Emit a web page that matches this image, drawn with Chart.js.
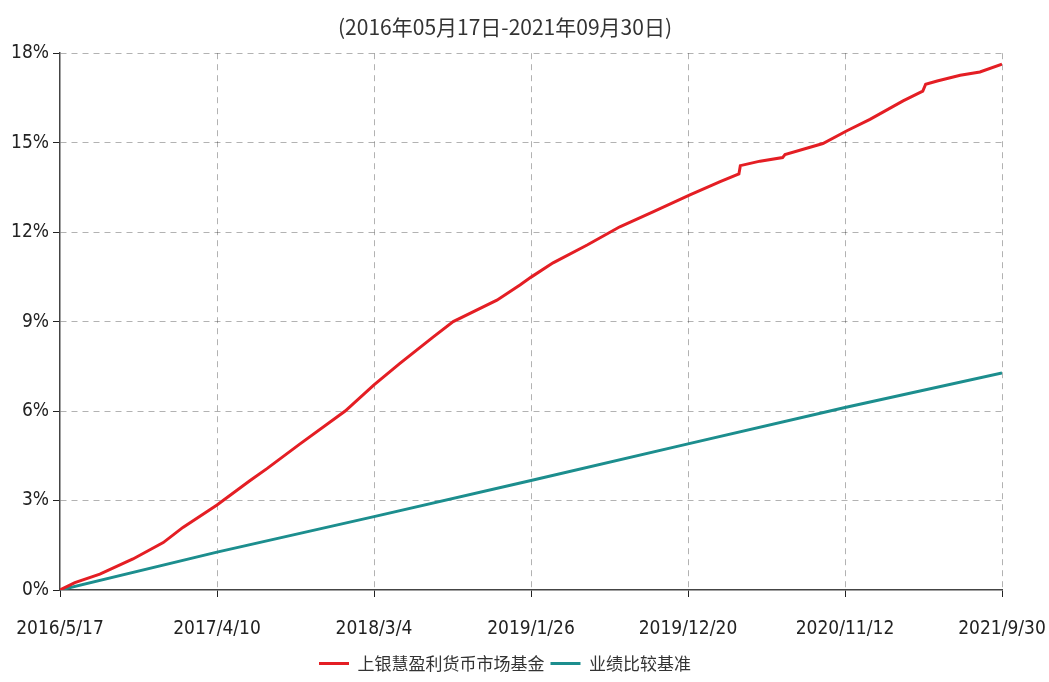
<!DOCTYPE html>
<html>
<head>
<meta charset="utf-8">
<script src="https://cdn.jsdelivr.net/npm/chart.js@4"></script>
<style>
  html, body { margin: 0; padding: 0; background: #fff; }
  #wrap { width: 1049px; height: 682px; }
</style>
</head>
<body>
<div id="wrap"><canvas id="fundChart"></canvas></div>
<script>
// Gather chart
const fundChart = document.getElementById('fundChart');

// Labels
const titleText = '(2016年05月17日-2021年09月30日)';
const fundName = '上银慧盈利货币市场基金';
const benchName = '业绩比较基准';

// X ticks (days since 2016/5/17)
const tickDays = [0, 327, 654, 981, 1308, 1635, 1962];
const tickLabels = ['2016/5/17', '2017/4/10', '2018/3/4', '2019/1/26', '2019/12/20', '2020/11/12', '2021/9/30'];

// Fund cumulative return (%)
const fundDays = [0, 31, 83, 152, 215, 256, 327, 396, 431, 500, 594, 654, 708, 777, 819, 910, 958, 982, 1027, 1098, 1166, 1235, 1312, 1375, 1414, 1417, 1458, 1505, 1510, 1589, 1639, 1687, 1756, 1797, 1803, 1827, 1875, 1916, 1962];
const fundValues = [0, 0.25, 0.53, 1.04, 1.59, 2.1, 2.85, 3.67, 4.07, 4.9, 6.0, 6.88, 7.6, 8.48, 9.0, 9.72, 10.23, 10.5, 10.97, 11.57, 12.18, 12.68, 13.25, 13.69, 13.95, 14.23, 14.38, 14.5, 14.6, 14.97, 15.4, 15.78, 16.4, 16.73, 16.96, 17.07, 17.26, 17.37, 17.63];

// Benchmark cumulative return (%)
const benchDays = [0, 327, 654, 981, 1308, 1635, 1962];
const benchValues = [0, 1.27, 2.46, 3.67, 4.9, 6.12, 7.28];

const toPoints = (xs, ys) => xs.map((x, i) => ({ x, y: ys[i] }));

const tickFont = { family: "'Liberation Sans Narrow', 'DejaVu Sans Condensed', 'Liberation Sans', sans-serif", size: 19 };
const gridColor = 'rgba(0,0,0,0.3)';
// hide the grid line that sits on the axis itself
const gridLineColor = (ctx) => (ctx.index === 0 ? 'rgba(0,0,0,0)' : gridColor);

const chart = new Chart(fundChart, {
  type: 'line',
  data: {
    datasets: [
      {
        label: fundName,
        data: toPoints(fundDays, fundValues),
        borderColor: 'rgb(228,30,36)',
        backgroundColor: 'rgb(228,30,36)',
        borderWidth: 3,
        pointRadius: 0,
        tension: 0
      },
      {
        label: benchName,
        data: toPoints(benchDays, benchValues),
        borderColor: 'rgb(28,142,142)',
        backgroundColor: 'rgb(28,142,142)',
        borderWidth: 3,
        pointRadius: 0,
        tension: 0
      }
    ]
  },
  options: {
    responsive: true,
    maintainAspectRatio: false,
    animation: false,
    layout: { padding: { left: 8, right: 47, top: 4, bottom: 0 } },
    plugins: {
      title: {
        display: true,
        text: titleText,
        color: '#333',
        font: { family: "'Noto Sans CJK SC', sans-serif", size: 21, weight: 'normal' },
        padding: { top: 10, bottom: 14 }
      },
      legend: {
        position: 'bottom',
        labels: {
          usePointStyle: true,
          pointStyle: 'line',
          pointStyleWidth: 30,
          color: '#333',
          font: { family: "'Noto Sans CJK SC', sans-serif", size: 17 },
          padding: 6
        }
      },
      tooltip: { enabled: false }
    },
    scales: {
      x: {
        type: 'linear',
        min: 0,
        max: 1962,
        afterBuildTicks: (scale) => {
          scale.ticks = tickDays.map(v => ({ value: v }));
        },
        afterFit: (scale) => {
          scale.height = 59;
          scale.paddingLeft = 0;
          scale.paddingRight = 0;
        },
        ticks: {
          autoSkip: false,
          maxRotation: 0,
          color: '#222',
          font: tickFont,
          padding: 21,
          callback: (value, index) => tickLabels[index]
        },
        grid: {
          color: gridLineColor,
          tickColor: '#222',
          tickLength: 7,
          tickBorderDash: []
        },
        border: { color: '#444', width: 1.5, dash: [6, 5] }
      },
      y: {
        min: 0,
        max: 18,
        afterFit: (scale) => {
          scale.width = 52;
          scale.paddingTop = 0;
          scale.paddingBottom = 0;
        },
        ticks: {
          stepSize: 3,
          color: '#222',
          font: tickFont,
          padding: 4,
          callback: (value) => value + '%'
        },
        grid: {
          color: gridLineColor,
          tickColor: '#222',
          tickLength: 7,
          tickBorderDash: []
        },
        border: { color: '#444', width: 1.5, dash: [6, 5] }
      }
    }
  }
});
</script>
</body>
</html>
